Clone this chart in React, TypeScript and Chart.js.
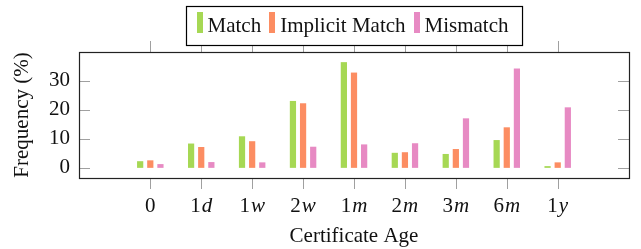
import React, { useEffect, useRef } from 'react';
import { Chart, registerables } from 'chart.js';

Chart.register(...registerables);

const ageLabels = ['0', '1d', '1w', '2w', '1m', '2m', '3m', '6m', '1y'];
const matchValues = [2.3, 8.4, 10.9, 23.1, 36.5, 5.2, 4.8, 9.6, 0.6];
const implicitMatchValues = [2.6, 7.2, 9.2, 22.3, 32.9, 5.4, 6.5, 14.0, 1.9];
const mismatchValues = [1.3, 2.0, 1.9, 7.3, 8.1, 8.5, 17.1, 34.3, 20.9];
const yTickValues = [0, 10, 20, 30];
const seriesNames = ['Match', 'Implicit Match', 'Mismatch'];
const seriesColors = ['#a6d854', '#fc8d62', '#e78ac3'];

const SERIF = "'Liberation Serif', 'DejaVu Serif', serif";
const FONT_SIZE = 21;

const framePlugin = {
  id: 'framePlugin',
  afterDatasetsDraw(chart: any) {
    const { ctx, chartArea } = chart;
    const { left, right, top, bottom } = chartArea;
    const xs = chart.scales.x;
    const ys = chart.scales.y;
    ctx.save();
    ctx.strokeStyle = '#a0a0a0';
    ctx.lineWidth = 1;
    const tl = 11;
    ctx.beginPath();
    ageLabels.forEach((_, i) => {
      const px = Math.round(xs.getPixelForValue(i)) + 0.5;
      ctx.moveTo(px, top - tl);
      ctx.lineTo(px, top);
      ctx.moveTo(px, bottom);
      ctx.lineTo(px, bottom + tl);
    });
    yTickValues.forEach((v) => {
      const py = Math.round(ys.getPixelForValue(v)) + 0.5;
      ctx.moveTo(left, py);
      ctx.lineTo(left + tl, py);
      ctx.moveTo(right - tl, py);
      ctx.lineTo(right, py);
    });
    ctx.stroke();
    ctx.strokeStyle = '#222222';
    ctx.lineWidth = 1.2;
    ctx.strokeRect(Math.round(left) + 0.5, Math.round(top) + 0.5, Math.round(right - left), Math.round(bottom - top));
    ctx.fillStyle = '#111111';
    ctx.textBaseline = 'alphabetic';
    ctx.textAlign = 'left';
    ageLabels.forEach((lab, i) => {
      const m = lab.match(/^(\d+)(.*)$/);
      const num = m ? m[1] : lab;
      const unit = m ? m[2] : '';
      ctx.font = `${FONT_SIZE}px ${SERIF}`;
      const w1 = ctx.measureText(num).width;
      ctx.font = `italic ${FONT_SIZE}px ${SERIF}`;
      const w2 = unit ? ctx.measureText(unit).width + 1 : 0;
      const px = xs.getPixelForValue(i);
      const x0 = px - (w1 + w2) / 2;
      const baseY = bottom + 34;
      ctx.font = `${FONT_SIZE}px ${SERIF}`;
      ctx.fillText(num, x0, baseY);
      if (unit) {
        ctx.font = `italic ${FONT_SIZE}px ${SERIF}`;
        ctx.fillText(unit, x0 + w1 + 1, baseY);
      }
    });
    ctx.restore();
  },
  afterDraw(chart: any) {
    const { ctx, chartArea } = chart;
    ctx.save();
    ctx.font = `${FONT_SIZE}px ${SERIF}`;
    const swW = 6;
    const swGap = 5;
    const itemGap = 8;
    const padL = 10;
    const padR = 14;
    const widths = seriesNames.map((n) => ctx.measureText(n).width);
    const total = padL + padR + widths.reduce((a, w) => a + swW + swGap + w, 0) + itemGap * (seriesNames.length - 1);
    const cx = (chartArea.left + chartArea.right) / 2;
    const boxX = Math.round(cx - total / 2) + 0.5;
    const boxY = 6.5;
    const boxH = 39;
    ctx.fillStyle = '#ffffff';
    ctx.fillRect(boxX, boxY, total, boxH);
    ctx.strokeStyle = '#000000';
    ctx.lineWidth = 1.2;
    ctx.strokeRect(boxX, boxY, total, boxH);
    let x = boxX + padL;
    seriesNames.forEach((n, i) => {
      ctx.fillStyle = seriesColors[i];
      ctx.fillRect(Math.round(x), 12, swW, 21);
      x += swW + swGap;
      ctx.fillStyle = '#111111';
      ctx.textBaseline = 'alphabetic';
      ctx.textAlign = 'left';
      ctx.fillText(n, x, 32);
      x += widths[i] + itemGap;
    });
    ctx.restore();
  },
};

export default function App() {
  const canvasRef = useRef<HTMLCanvasElement | null>(null);

  useEffect(() => {
    if (!canvasRef.current) return;
    const mk = (vals: number[]) => vals.map((v, i) => ({ x: i, y: v }));
    const chart = new Chart(canvasRef.current, {
      type: 'bar',
      data: {
        datasets: [
          { label: seriesNames[0], data: mk(matchValues), backgroundColor: seriesColors[0] },
          { label: seriesNames[1], data: mk(implicitMatchValues), backgroundColor: seriesColors[1] },
          { label: seriesNames[2], data: mk(mismatchValues), backgroundColor: seriesColors[2] },
        ],
      },
      options: {
        animation: false,
        responsive: false,
        maintainAspectRatio: false,
        devicePixelRatio: 1,
        layout: { padding: { left: 0, right: 12, top: 52, bottom: 0 } },
        plugins: { legend: { display: false }, tooltip: { enabled: false } },
        datasets: { bar: { categoryPercentage: 0.597, barPercentage: 0.614 } },
        scales: {
          x: {
            type: 'linear',
            min: -0.8,
            max: 8.8,
            grid: { display: false, drawTicks: false },
            border: { display: false },
            ticks: { display: false },
            afterBuildTicks: (s: any) => {
              s.ticks = ageLabels.map((_, i) => ({ value: i }));
            },
            afterFit: (s: any) => {
              s.height = 71;
            },
            title: {
              display: true,
              text: 'Certificate Age',
              color: '#111111',
              font: { family: SERIF, size: FONT_SIZE },
              padding: { top: 0, bottom: 0 },
            },
          },
          y: {
            type: 'linear',
            min: -3.5,
            max: 40,
            grid: { display: false, drawTicks: false },
            border: { display: false },
            afterBuildTicks: (s: any) => {
              s.ticks = yTickValues.map((v) => ({ value: v }));
            },
            afterFit: (s: any) => {
              s.width = 79;
            },
            ticks: {
              color: '#111111',
              font: { family: SERIF, size: FONT_SIZE },
              padding: 9,
            },
            title: {
              display: true,
              text: 'Frequency (%)',
              color: '#111111',
              font: { family: SERIF, size: FONT_SIZE },
              padding: { top: 10, bottom: 0 },
            },
          },
        },
      },
      plugins: [framePlugin],
    } as any);
    return () => chart.destroy();
  }, []);

  return (
    <div style={{ position: 'absolute', left: 0, top: 0, width: 641, height: 249 }}>
      <canvas ref={canvasRef} width={641} height={249} style={{ width: 641, height: 249, display: 'block' }} />
    </div>
  );
}
